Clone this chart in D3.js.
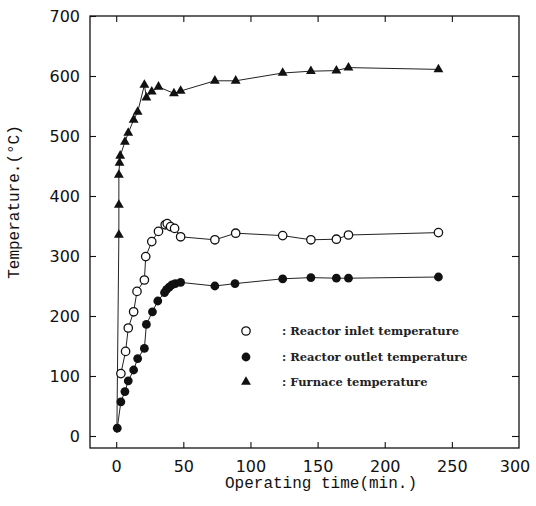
<!DOCTYPE html>
<html>
<head>
<meta charset="utf-8">
<script src="https://cdn.jsdelivr.net/npm/d3@7"></script>
<style>
  body { margin: 0; background: #fff; }
  svg { display: block; }
</style>
</head>
<body>
<svg></svg>
<script>
'use strict';
// Values
var inletTime = [3.5, 7, 9, 13, 15.5, 21, 22, 26.5, 31.5, 36.5, 38, 40.5, 43.5, 48, 73.5, 89, 124, 145, 164, 173, 240];
var inletTemp = [104, 141, 180, 207, 241, 260, 299, 324, 341, 352, 354, 349, 346, 332, 327, 338, 334, 327, 328, 335, 339];

var outletTime = [0.8, 3.5, 6.5, 9, 13, 16, 21, 22.5, 27, 31, 36, 37.5, 39.5, 41.5, 44, 48, 73.5, 88.5, 124, 145, 164, 173, 240];
var outletTemp = [13, 57, 74, 92, 110, 129, 146, 186, 207, 225, 239, 244, 248, 252, 254, 256, 250, 254, 262, 264, 263, 263, 265];

// first furnace sample is the cold start (line only, no marker)
var furnaceTime = [0.5, 2, 2, 2, 2.5, 3, 6.5, 9, 13, 16, 21, 22.5, 26.5, 31.5, 43, 48, 73.5, 89, 124, 145, 164, 173, 240];
var furnaceTemp = [5, 335, 385, 435, 455, 467, 490, 505, 527, 540, 585, 564, 574, 582, 571, 575, 592, 592, 605, 608, 609, 614, 611];

var xTicks = [0, 50, 100, 150, 200, 250, 300];
var yTicks = [0, 100, 200, 300, 400, 500, 600, 700];
var legendLabels = [': Reactor inlet temperature', ': Reactor outlet temperature', ': Furnace temperature'];

var margin = { top: 16, right: 17, bottom: 58, left: 90 };
var canvasWidth = 536;
var canvasHeight = 506;
var width = canvasWidth - margin.left - margin.right;
var height = canvasHeight - margin.top - margin.bottom;

var svg = d3.select('svg')
  .attr('width', canvasWidth)
  .attr('height', canvasHeight);
var g = svg.append('g')
  .attr('transform', 'translate(' + margin.left + ',' + margin.top + ')');

var xScale = d3.scaleLinear().domain([-19.5, 300]).range([0, width]);
var yScale = d3.scaleLinear().domain([-20, 700]).range([height, 0]);

// axes: all ticks point inward, labels only on left and bottom
var tickFont = function(sel) {
  sel.selectAll('text')
    .attr('font-family', 'DejaVu Sans, sans-serif')
    .attr('font-size', 16)
    .attr('fill', '#111');
  sel.selectAll('line').attr('stroke', '#111').attr('stroke-width', 1.1);
  sel.select('.domain').remove();
};

g.append('g')
  .attr('transform', 'translate(0,' + height + ')')
  .call(d3.axisBottom(xScale).tickValues(xTicks.slice(0, -1)).tickSize(-6).tickPadding(13))
  .call(tickFont);
// 300 sits on the right border, label only
g.append('text')
  .attr('x', xScale(300) - 4)
  .attr('y', height + 13)
  .attr('dy', '0.71em')
  .attr('text-anchor', 'middle')
  .attr('font-family', 'DejaVu Sans, sans-serif')
  .attr('font-size', 16)
  .attr('fill', '#111')
  .text(xTicks[xTicks.length - 1]);

g.append('g')
  .call(d3.axisTop(xScale).tickValues(xTicks.slice(0, -1)).tickSize(-6).tickFormat(''))
  .call(tickFont);

g.append('g')
  .call(d3.axisLeft(yScale).tickValues(yTicks).tickSize(-6).tickPadding(10))
  .call(tickFont);

g.append('g')
  .attr('transform', 'translate(' + width + ',0)')
  .call(d3.axisRight(yScale).tickValues(yTicks.slice(0, -1)).tickSize(-7).tickFormat(''))
  .call(tickFont);

// frame
g.append('rect')
  .attr('width', width)
  .attr('height', height)
  .attr('fill', 'none')
  .attr('stroke', '#111')
  .attr('stroke-width', 1.3);

// axis titles
svg.append('text')
  .attr('x', 321)
  .attr('y', 488)
  .attr('text-anchor', 'middle')
  .attr('font-family', 'Liberation Mono, monospace')
  .attr('font-size', 16)
  .attr('fill', '#111')
  .text('Operating time(min.)');

svg.append('text')
  .attr('transform', 'translate(19,202) rotate(-90)')
  .attr('text-anchor', 'middle')
  .attr('font-family', 'Liberation Mono, monospace')
  .attr('font-size', 16)
  .attr('fill', '#111')
  .text('Temperature.(°C)');

// series
var zip = function(xs, ys) {
  return xs.map(function(x, i) { return [x, ys[i]]; });
};
var series = [
  { name: 'inlet', pts: zip(inletTime, inletTemp), skip: 0 },
  { name: 'outlet', pts: zip(outletTime, outletTemp), skip: 0 },
  { name: 'furnace', pts: zip(furnaceTime, furnaceTemp), skip: 1 }
];

var line = d3.line()
  .x(function(d) { return xScale(d[0]); })
  .y(function(d) { return yScale(d[1]); });

series.forEach(function(s) {
  g.append('path')
    .datum(s.pts)
    .attr('d', line)
    .attr('fill', 'none')
    .attr('stroke', '#222')
    .attr('stroke-width', 1);
});

var triangle = d3.symbol().type(d3.symbolTriangle).size(42);

function drawMarker(sel, kind) {
  if (kind === 'inlet') {
    sel.append('circle').attr('r', 4.2)
      .attr('fill', '#fff').attr('stroke', '#111').attr('stroke-width', 1.3);
  } else if (kind === 'outlet') {
    sel.append('circle').attr('r', 4.4).attr('fill', '#111');
  } else {
    sel.append('path').attr('d', triangle).attr('fill', '#111');
  }
}

series.forEach(function(s) {
  g.selectAll('g.m-' + s.name)
    .data(s.pts.slice(s.skip))
    .enter().append('g')
    .attr('class', 'm-' + s.name)
    .attr('transform', function(d) { return 'translate(' + xScale(d[0]) + ',' + yScale(d[1]) + ')'; })
    .each(function() { drawMarker(d3.select(this), s.name); });
});

// legend
var legend = svg.append('g');
legendLabels.forEach(function(label, i) {
  var ly = [331, 357, 382][i];
  var item = legend.append('g').attr('transform', 'translate(246,' + ly + ')');
  drawMarker(item, series[i].name);
  legend.append('text')
    .attr('x', 282)
    .attr('y', ly)
    .attr('dy', '0.35em')
    .attr('font-family', 'DejaVu Serif, serif')
    .attr('font-weight', 'bold')
    .attr('font-size', 11.5)
    .attr('fill', '#222')
    .text(label);
});
</script>
</body>
</html>
